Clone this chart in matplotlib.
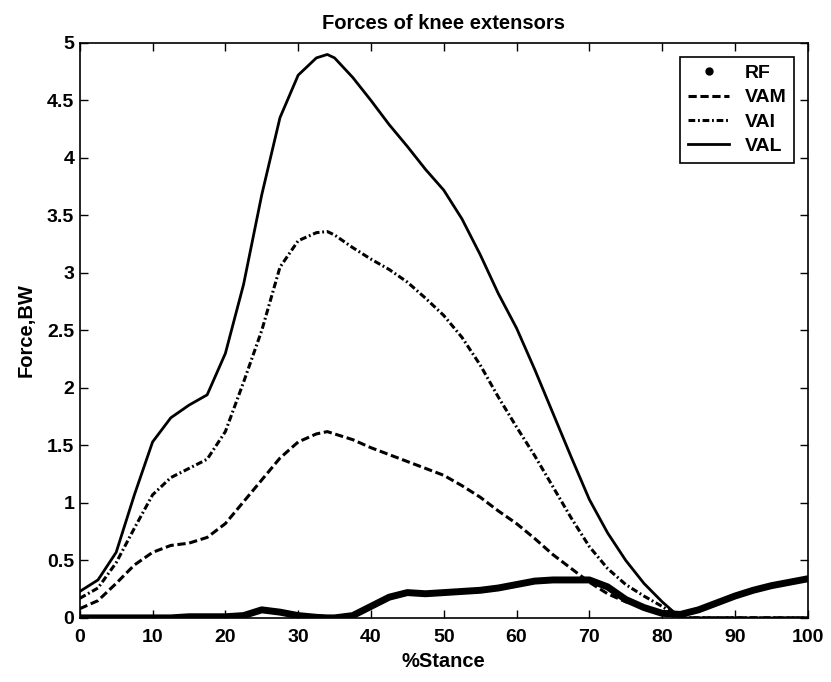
import numpy as np
from matplotlib import pyplot as plt
from matplotlib.lines import Line2D

# % of stance phase (2.5 % steps, plus the peak at 34 %)
stance = [0, 2.5, 5, 7.5, 10, 12.5, 15, 17.5, 20, 22.5,
          25, 27.5, 30, 32.5, 34, 35, 37.5, 40, 42.5, 45, 47.5,
          50, 52.5, 55, 57.5, 60, 62.5, 65, 67.5, 70, 72.5,
          75, 77.5, 80, 82.5, 85, 87.5, 90, 92.5, 95, 97.5, 100]

# Muscle forces in body weights
rf = [0.00, 0.00, 0.00, 0.00, 0.00, 0.00, 0.01, 0.01, 0.01, 0.02,
      0.07, 0.05, 0.02, 0.005, 0.00, 0.00, 0.02, 0.10, 0.18, 0.22, 0.21,
      0.22, 0.23, 0.24, 0.26, 0.29, 0.32, 0.33, 0.33, 0.33, 0.27,
      0.16, 0.09, 0.04, 0.03, 0.07, 0.13, 0.19, 0.24, 0.28, 0.31, 0.34]
vam = [0.08, 0.15, 0.30, 0.46, 0.57, 0.63, 0.65, 0.70, 0.82, 1.01,
       1.20, 1.39, 1.53, 1.60, 1.62, 1.60, 1.55, 1.48, 1.42, 1.36, 1.30,
       1.24, 1.15, 1.05, 0.93, 0.82, 0.69, 0.55, 0.43, 0.31, 0.21,
       0.14, 0.09, 0.04, 0.00, 0.00, 0.00, 0.00, 0.00, 0.00, 0.00, 0.00]
vai = [0.17, 0.26, 0.48, 0.78, 1.07, 1.22, 1.30, 1.38, 1.62, 2.05,
       2.50, 3.05, 3.28, 3.35, 3.36, 3.33, 3.22, 3.12, 3.03, 2.92, 2.78,
       2.63, 2.44, 2.20, 1.92, 1.66, 1.41, 1.14, 0.87, 0.62, 0.43,
       0.29, 0.19, 0.10, 0.00, 0.00, 0.00, 0.00, 0.00, 0.00, 0.00, 0.00]
val = [0.23, 0.33, 0.57, 1.07, 1.53, 1.74, 1.85, 1.94, 2.30, 2.90,
       3.68, 4.35, 4.72, 4.87, 4.90, 4.87, 4.70, 4.50, 4.29, 4.10, 3.90,
       3.72, 3.47, 3.16, 2.82, 2.52, 2.16, 1.78, 1.40, 1.03, 0.74,
       0.50, 0.30, 0.14, 0.00, 0.00, 0.00, 0.00, 0.00, 0.00, 0.00, 0.00]

plt.rcParams['font.family'] = ['Liberation Sans', 'DejaVu Sans']
plt.rcParams['font.weight'] = 'bold'

dash_vam = (0, (2.7, 1.2))
dash_vai = (0, (2.2, 0.9, 0.6, 0.9))

fig = plt.figure(figsize=(8.31, 6.82), dpi=100)
ax = fig.add_axes([0.096, 0.094, 0.876, 0.843])

ax.plot(stance, rf, color='k', lw=5, solid_capstyle='round', solid_joinstyle='round')
ax.plot(stance, vam, color='k', lw=2.2, ls=dash_vam)
ax.plot(stance, vai, color='k', lw=2.2, ls=dash_vai)
ax.plot(stance, val, color='k', lw=2.0, solid_joinstyle='round')

handles = [
    Line2D([], [], color='k', marker='.', ls='none', markersize=10),
    Line2D([], [], color='k', lw=2.2, ls=dash_vam),
    Line2D([], [], color='k', lw=2.2, ls=dash_vai),
    Line2D([], [], color='k', lw=2.0),
]
leg = ax.legend(handles, ['RF', 'VAM', 'VAI', 'VAL'], loc='upper right',
                fancybox=False, edgecolor='k', framealpha=1,
                prop={'weight': 'bold', 'size': 14},
                handlelength=2.1, handletextpad=0.8, borderaxespad=0.7,
                labelspacing=0.35, borderpad=0.4)
leg.get_frame().set_linewidth(1.2)

ax.set_xlim(0, 100)
ax.set_ylim(0, 5)
ax.set_xticks(np.arange(0, 101, 10))
ax.set_yticks(np.arange(0, 5.01, 0.5))
ax.set_yticklabels(['0', '0.5', '1', '1.5', '2', '2.5', '3', '3.5', '4', '4.5', '5'])
ax.tick_params(direction='in', top=True, right=True, length=6, width=1,
               labelsize=14)
ax.tick_params(axis='x', pad=8)
ax.tick_params(axis='y', pad=4)
for spine in ax.spines.values():
    spine.set_linewidth(1.2)

ax.set_title('Forces of knee extensors', fontsize=14.5, fontweight='bold', pad=10)
ax.set_xlabel('%Stance', fontsize=14.5, fontweight='bold', labelpad=4)
ax.set_ylabel('Force,BW', fontsize=14.5, fontweight='bold', labelpad=8)

plt.savefig('out.png', dpi=100)
